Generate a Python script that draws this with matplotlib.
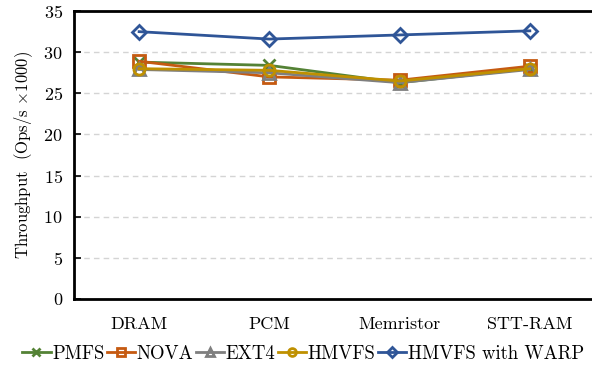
import matplotlib
matplotlib.use("Agg")
import matplotlib.pyplot as plt
import numpy as np

plt.rcParams['font.family'] = 'serif'
plt.rcParams['font.serif'] = ['cmr10']
plt.rcParams['mathtext.fontset'] = 'cm'
plt.rcParams['axes.formatter.use_mathtext'] = True

# data
categories = ["DRAM", "PCM", "Memristor", "STT-RAM"]
pmfs = [28.8, 28.4, 26.3, 28.0]
nova = [28.9, 27.0, 26.6, 28.3]
ext4 = [27.9, 27.5, 26.3, 27.9]
hmvfs = [28.0, 27.8, 26.5, 28.0]
hmvfs_warp = [32.5, 31.6, 32.1, 32.6]

series = [
    ("PMFS", pmfs, "#548235", "x"),
    ("NOVA", nova, "#C55A11", "s"),
    ("EXT4", ext4, "#7F7F7F", "^"),
    ("HMVFS", hmvfs, "#BF9000", "o"),
    ("HMVFS with WARP", hmvfs_warp, "#2F5597", "D"),
]

fig = plt.figure(figsize=(5.92, 3.70), dpi=100)
ax = fig.add_axes([0.125, 0.192, 0.88, 0.778])

x = np.arange(len(categories))
for name, vals, col, mk in series:
    ax.plot(x, vals, color=col, marker=mk, markersize=8 if mk != "D" else 7,
            markerfacecolor="none" if mk != "x" else col, markeredgewidth=2,
            linewidth=2, label=name)

ax.set_xlim(-0.5, 3.5)
ax.set_ylim(0, 35)
ax.set_yticks(range(0, 36, 5))
ax.set_xticks(x)
ax.set_xticklabels(categories, fontsize=13)
ax.tick_params(axis='y', direction='in', length=5, width=1.2, labelsize=13, pad=8)
ax.tick_params(axis='x', length=0, pad=13)
ax.set_ylabel(r"Throughput  (Ops/s $\times$1000)", fontsize=12, labelpad=6)
ax.yaxis.grid(True, linestyle=(0, (4, 3)), color="#d4d4d4", linewidth=1)
ax.set_axisbelow(True)
for s in ["left", "top", "bottom"]:
    ax.spines[s].set_linewidth(2)
ax.spines["right"].set_visible(False)

ax.legend(loc="center", bbox_to_anchor=(0.44, -0.19), ncol=5, frameon=False,
          fontsize=13.5, handlelength=1.5, handletextpad=0.1, columnspacing=0.12,
          borderaxespad=0, markerscale=0.7)

fig.savefig("out.png", dpi=100)
